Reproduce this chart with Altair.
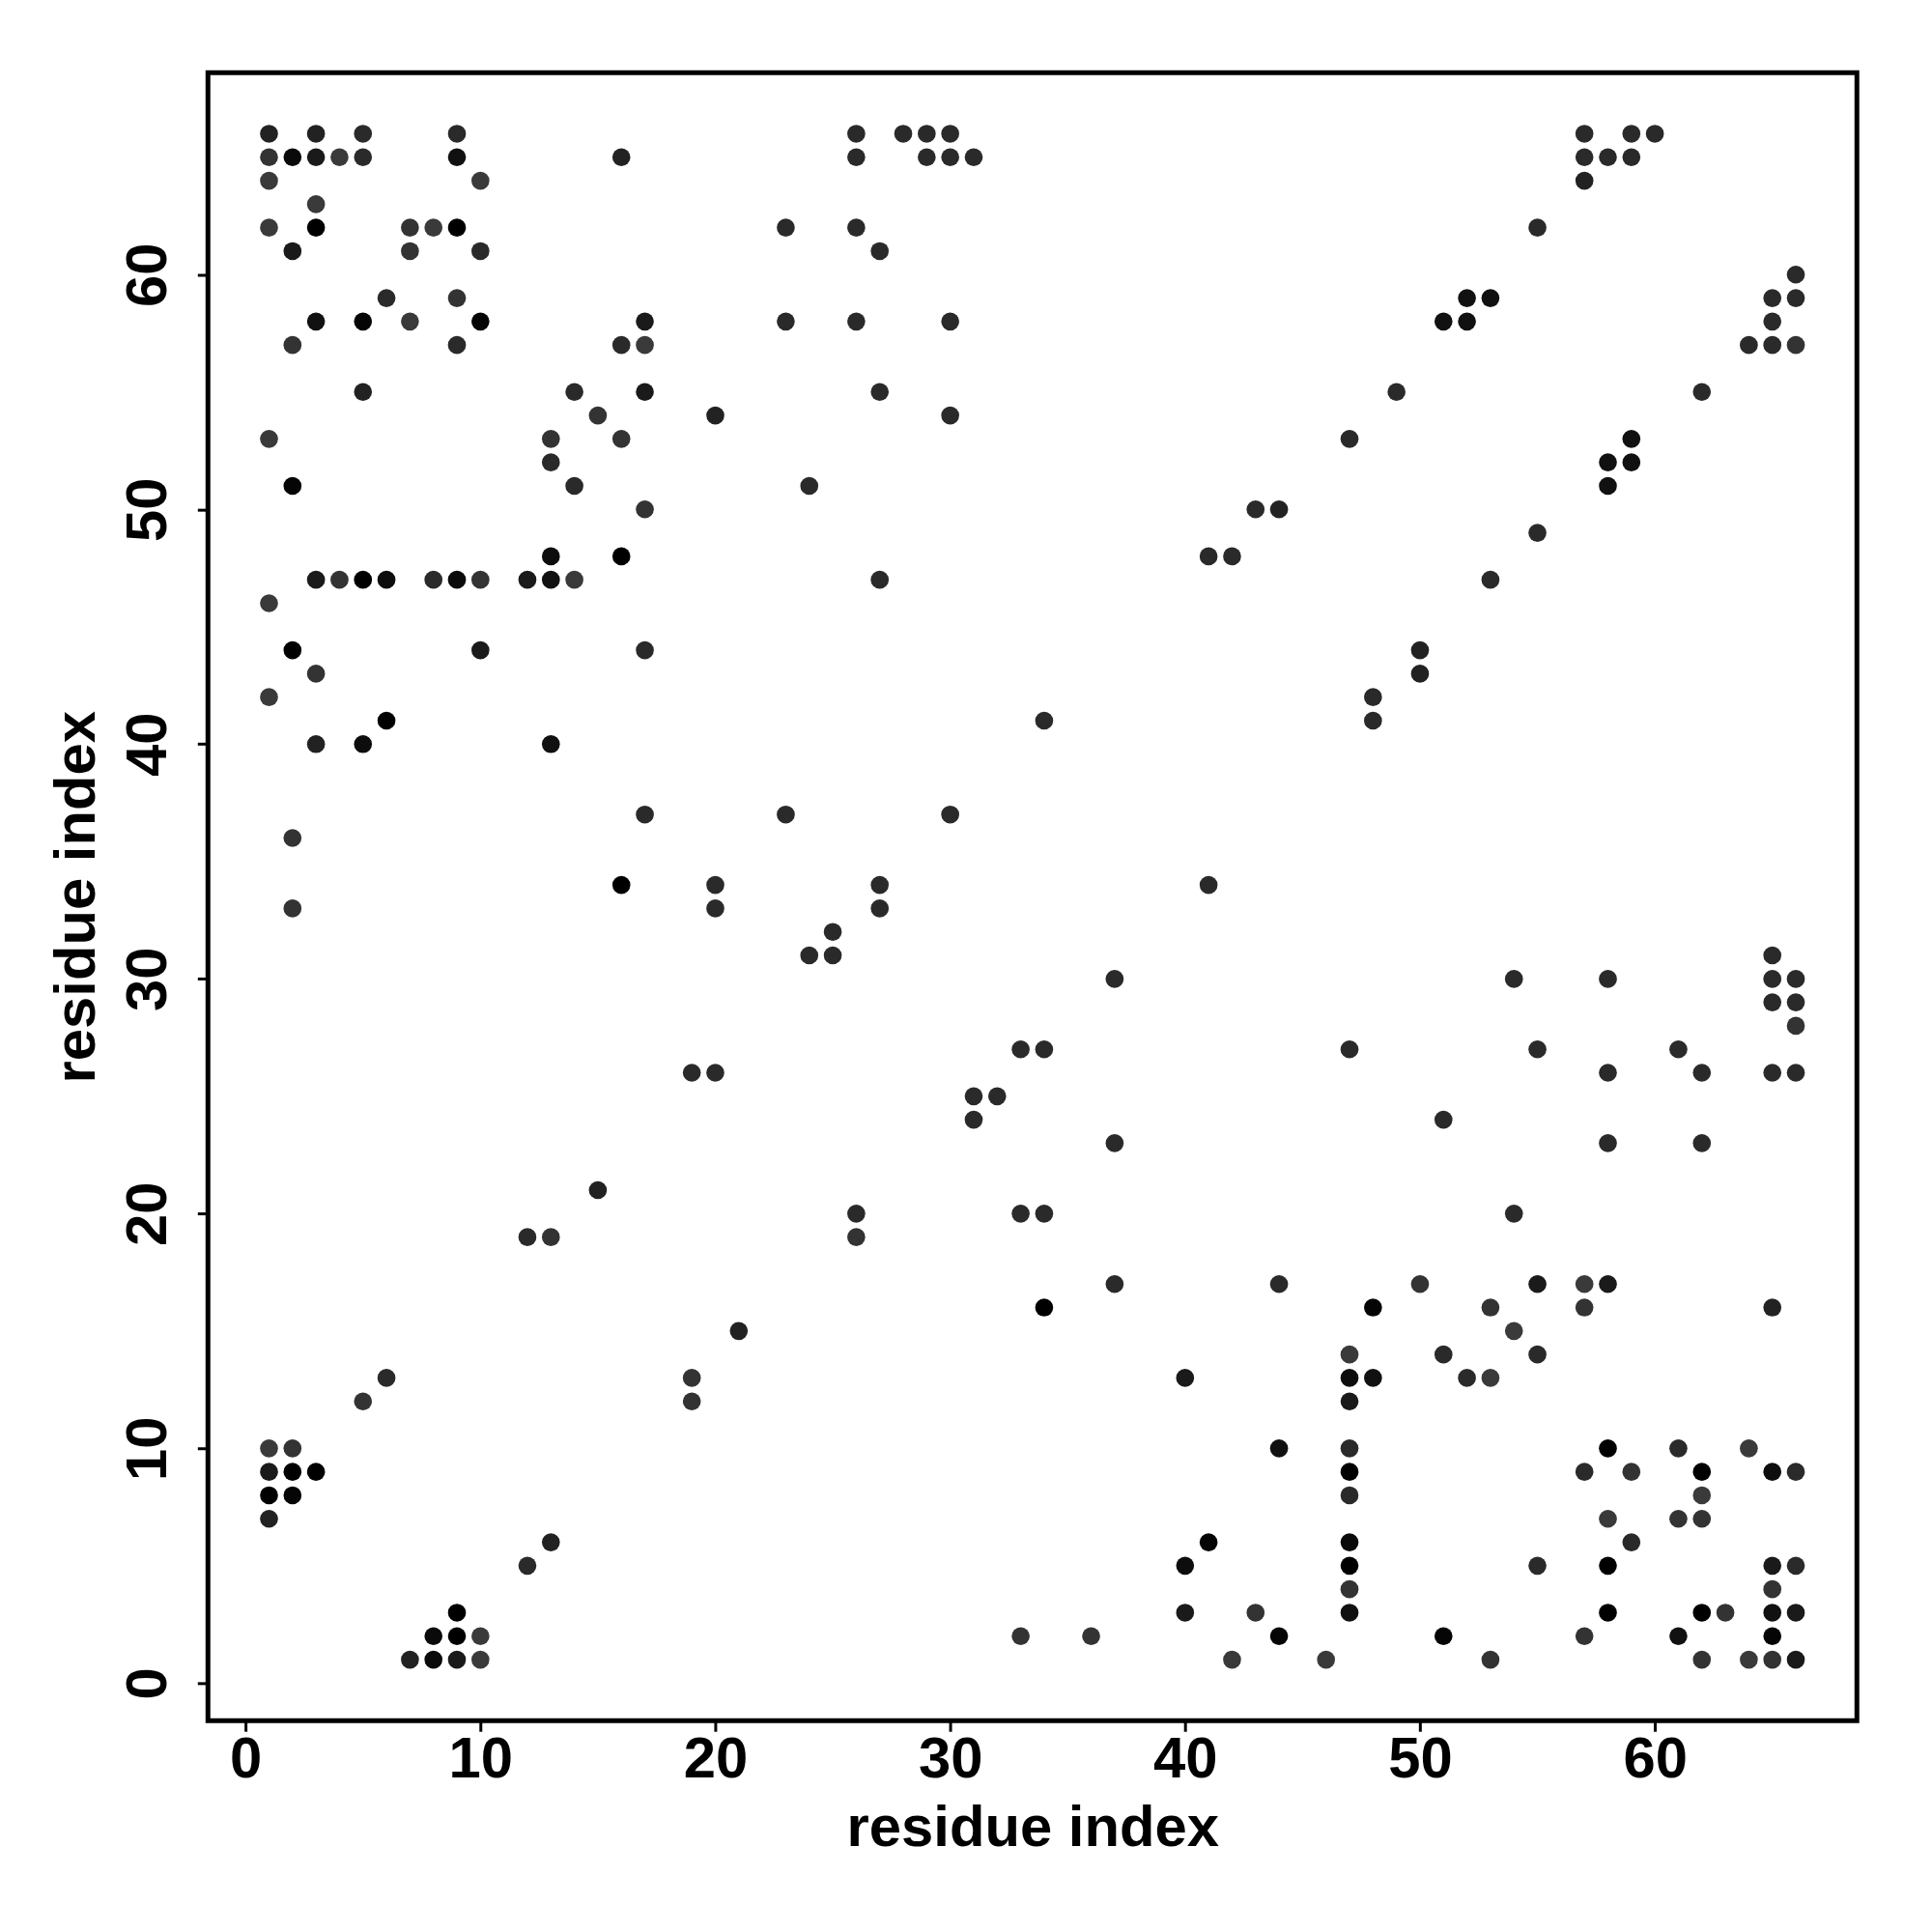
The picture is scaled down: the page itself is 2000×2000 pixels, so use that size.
import altair as alt
import pandas as pd

# contact points: (x, grey level 0..255) grouped by y
rows = {
    66: [(1,34),(3,34),(5,42),(9,42),(26,42),(28,42),(29,42),(30,42),(57,42),(59,42),(60,42)],
    65: [(1,51),(2,10),(3,26),(4,58),(5,42),(9,17),(16,34),(26,42),(29,42),(30,42),(31,42),(57,42),(58,42),(59,42)],
    64: [(1,58),(10,58),(57,34)],
    63: [(3,58)],
    62: [(1,58),(3,0),(7,51),(8,58),(9,0),(23,42),(26,42),(55,42)],
    61: [(2,26),(7,51),(10,42),(27,42)],
    60: [(66,42)],
    59: [(6,42),(9,51),(52,17),(53,17),(65,42),(66,42)],
    58: [(3,17),(5,5),(7,58),(10,5),(17,26),(23,42),(26,42),(30,42),(51,17),(52,17),(65,42)],
    57: [(2,51),(9,42),(16,42),(17,58),(64,42),(65,42),(66,51)],
    55: [(5,34),(14,42),(17,26),(27,42),(49,42),(62,42)],
    54: [(15,51),(20,34),(30,42)],
    53: [(1,58),(13,51),(16,51),(47,42),(59,17)],
    52: [(13,42),(58,17),(59,17)],
    51: [(2,5),(14,42),(24,42),(58,17)],
    50: [(17,51),(43,42),(44,34)],
    49: [(55,42)],
    48: [(13,13),(16,0),(41,42),(42,42)],
    47: [(3,26),(4,51),(5,0),(6,13),(8,42),(9,10),(10,51),(12,26),(13,17),(14,58),(27,42),(53,42)],
    46: [(1,58)],
    44: [(2,0),(10,26),(17,42),(50,34)],
    43: [(3,51),(50,34)],
    42: [(1,58),(48,42)],
    41: [(6,0),(34,42),(48,42)],
    40: [(3,34),(5,13),(13,17)],
    37: [(17,42),(23,42),(30,42)],
    36: [(2,51)],
    34: [(16,0),(20,42),(27,42),(41,42)],
    33: [(2,51),(20,42),(27,42)],
    32: [(25,42)],
    31: [(24,42),(25,42),(65,42)],
    30: [(37,42),(54,42),(58,42),(65,42),(66,42)],
    29: [(65,42),(66,42)],
    28: [(66,51)],
    27: [(33,42),(34,42),(47,42),(55,42),(61,42)],
    26: [(19,42),(20,42),(58,42),(62,42),(65,42),(66,42)],
    25: [(31,42),(32,42)],
    24: [(31,42),(51,42)],
    23: [(37,42),(58,42),(62,42)],
    21: [(15,34)],
    20: [(26,42),(33,42),(34,42),(54,42)],
    19: [(12,42),(13,51),(26,51)],
    17: [(37,42),(44,42),(50,51),(55,26),(57,58),(58,26)],
    16: [(34,0),(48,5),(53,51),(57,51),(65,34)],
    15: [(21,34),(54,58)],
    14: [(47,58),(51,42),(55,42)],
    13: [(6,42),(19,51),(40,26),(47,13),(48,17),(52,42),(53,58)],
    12: [(5,51),(19,51),(47,26)],
    10: [(1,58),(2,51),(44,17),(47,42),(58,0),(61,42),(64,58)],
    9:  [(1,26),(2,0),(3,0),(47,0),(57,42),(59,51),(62,0),(65,13),(66,42)],
    8:  [(1,0),(2,5),(47,42),(62,58)],
    7:  [(1,34),(58,58),(61,51),(62,51)],
    6:  [(13,34),(41,5),(47,10),(59,42)],
    5:  [(12,42),(40,13),(47,0),(55,42),(58,0),(65,26),(66,42)],
    4:  [(47,51),(65,51)],
    3:  [(9,0),(40,26),(43,51),(47,17),(58,0),(62,0),(63,51),(65,17),(66,26)],
    2:  [(8,10),(9,0),(10,58),(33,51),(36,51),(44,5),(51,5),(57,51),(61,17),(65,5)],
    1:  [(7,34),(8,10),(9,26),(10,58),(42,58),(46,58),(53,51),(62,51),(64,58),(65,51),(66,26)],
}
tick_values = [0, 10, 20, 30, 40, 50, 60]

recs = []
for yv, pts in rows.items():
    for xv, g in pts:
        recs.append({"i": xv, "j": yv, "col": "#%02x%02x%02x" % (g, g, g)})
df = pd.DataFrame(recs)

FONT = "Liberation Sans"
W = 1713
H = 1712

xaxis = alt.Axis(values=tick_values, title="residue index", grid=False, domain=False,
                 tickSize=11, tickWidth=3, tickColor="black",
                 labelFont=FONT, labelFontSize=60, labelFontWeight="bold", labelColor="black",
                 labelPadding=0, labelFlush=False, labelBaseline="top",
                 titleFont=FONT, titleFontSize=60, titleFontWeight="bold", titleColor="black",
                 titleBaseline="alphabetic", titleY=130)
yaxis = alt.Axis(values=tick_values, title="residue index", grid=False, domain=False,
                 tickSize=11, tickWidth=3, tickColor="black",
                 labelFont=FONT, labelFontSize=60, labelFontWeight="bold", labelColor="black",
                 labelAngle=270, labelAlign="center", labelBaseline="alphabetic",
                 labelPadding=33, labelFlush=False,
                 titleFont=FONT, titleFontSize=60, titleFontWeight="bold", titleColor="black",
                 titleAngle=270, titleAlign="center", titleBaseline="alphabetic",
                 titleX=-118, titleY=H / 2)

chart = alt.Chart(df).mark_circle(size=350, opacity=1).encode(
    x=alt.X("i:Q", scale=alt.Scale(domain=[-1.6, 68.6], nice=False, zero=False), axis=xaxis),
    y=alt.Y("j:Q", scale=alt.Scale(domain=[-1.6, 68.6], nice=False, zero=False), axis=yaxis),
    color=alt.Color("col:N", scale=None),
).properties(
    width=W, height=H,
    autosize=alt.AutoSizeParams(type="none"),
    padding={"left": 208, "top": 64, "right": 70, "bottom": 210},
).configure_view(stroke="black", strokeWidth=5)

chart.save("out.html", embed_options={"renderer": "svg", "actions": False})
